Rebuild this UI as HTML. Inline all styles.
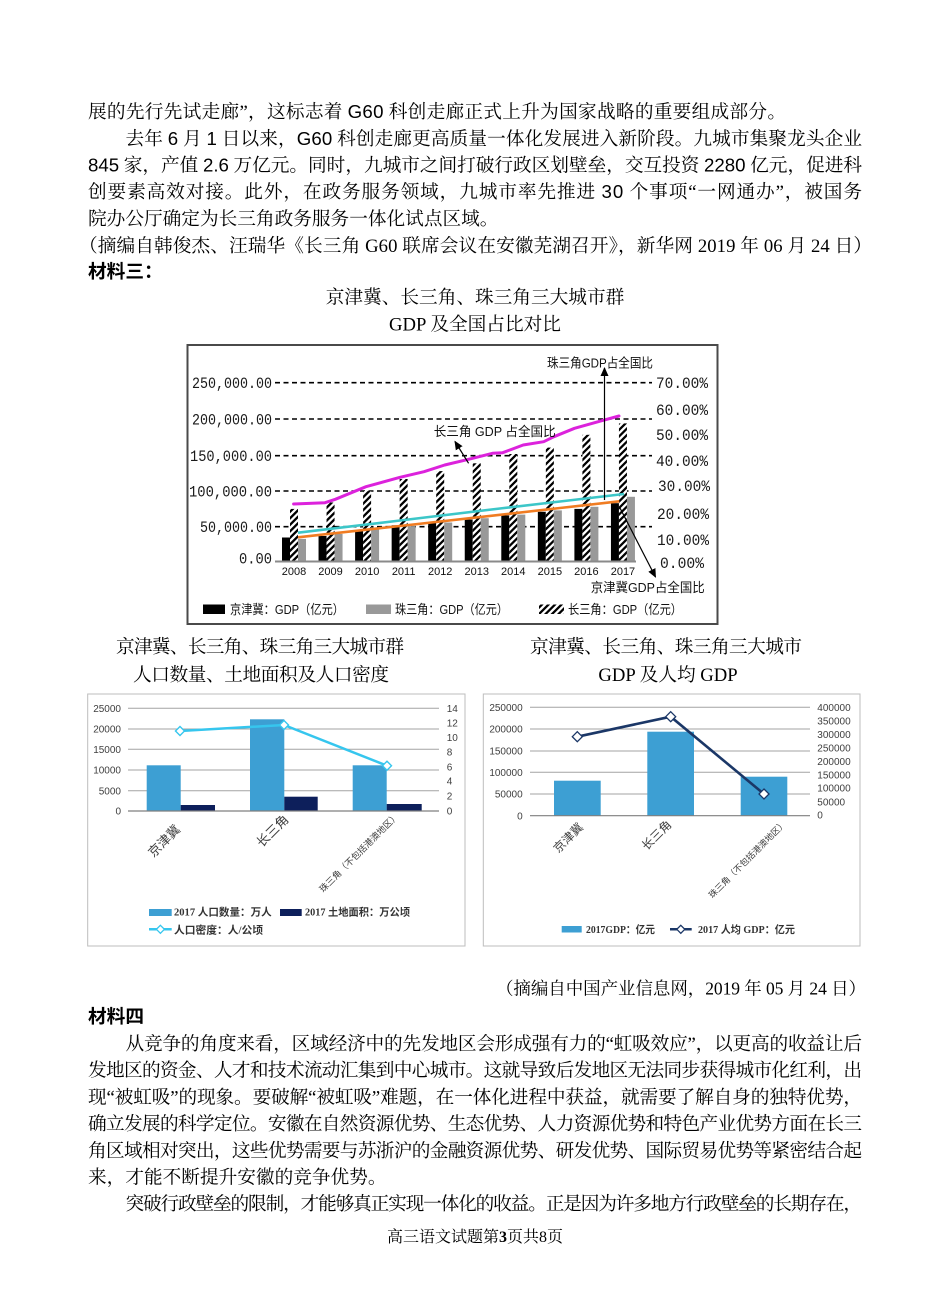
<!DOCTYPE html>
<html lang="zh">
<head>
<meta charset="utf-8">
<style>
html,body{margin:0;padding:0;background:#fff;}
svg{display:block;}
.b{font-family:"Liberation Serif","Noto Serif CJK SC","Noto Serif CJK SC",serif;font-size:18.67px;fill:#000;}
.s{font-family:"Liberation Sans","Noto Sans CJK SC",sans-serif;}
.hd{font-family:"Liberation Sans","Noto Sans CJK SC",sans-serif;font-size:18.67px;font-weight:bold;fill:#000;}
.mono{font-family:"Liberation Mono","Noto Sans CJK SC",monospace;fill:#1a1a1a;}
.cj{font-family:"Liberation Sans","Noto Sans CJK SC",sans-serif;fill:#111;}
.ax{font-family:"Liberation Sans","Noto Sans CJK SC",sans-serif;font-size:10px;fill:#404040;}
.cat{font-family:"Liberation Sans","Noto Sans CJK SC",sans-serif;fill:#404040;}
.lg{font-family:"Liberation Serif","Noto Sans CJK SC",serif;font-size:10.5px;font-weight:bold;fill:#333;}
</style>
</head>
<body>
<svg width="950" height="1316" viewBox="0 0 950 1316" xmlns="http://www.w3.org/2000/svg">
<defs>
<pattern id="hatch" patternUnits="userSpaceOnUse" width="4.6" height="4.6" patternTransform="rotate(45)">
<rect width="4.6" height="4.6" fill="#fff"/>
<rect width="2.3" height="4.6" fill="#000"/>
</pattern>
<marker id="ar" markerWidth="9" markerHeight="8" refX="8" refY="4" orient="auto" markerUnits="userSpaceOnUse">
<path d="M0,0 L9,4 L0,8 z" fill="#000"/>
</marker>
</defs>
<rect x="0" y="0" width="950" height="1316" fill="#fff"/>

<!-- ===== Top text ===== -->
<text class="b" x="88" y="118.1" textLength="698" lengthAdjust="spacing">展的先行先试走廊”，这标志着 <tspan class="s">G60</tspan> 科创走廊正式上升为国家战略的重要组成部分。</text>
<text class="b" x="125.5" y="144.8" textLength="736.5" lengthAdjust="spacing">去年 <tspan class="s">6</tspan> 月 <tspan class="s">1</tspan> 日以来，<tspan class="s">G60</tspan> 科创走廊更高质量一体化发展进入新阶段。九城市集聚龙头企业</text>
<text class="b" x="88" y="171.5" textLength="774" lengthAdjust="spacing"><tspan class="s">845</tspan> 家，产值 <tspan class="s">2.6</tspan> 万亿元。同时，九城市之间打破行政区划壁垒，交互投资 <tspan class="s">2280</tspan> 亿元，促进科</text>
<text class="b" x="88" y="198.2" textLength="774" lengthAdjust="spacing">创要素高效对接。此外，在政务服务领域，九城市率先推进 <tspan class="s">30</tspan> 个事项“一网通办”，被国务</text>
<text class="b" x="88" y="224.9">院办公厅确定为长三角政务服务一体化试点区域。</text>
<text class="b" x="79" y="252.1" textLength="793" lengthAdjust="spacing">（摘编自韩俊杰、汪瑞华《长三角 G60 联席会议在安徽芜湖召开》，新华网 2019 年 06 月 24 日）</text>
<text class="hd" x="88" y="278">材料三：</text>

<text class="b" x="475" y="303.6" text-anchor="middle">京津冀、长三角、珠三角三大城市群</text>
<text class="b" x="475" y="330.6" text-anchor="middle">GDP 及全国占比对比</text>

<!-- ===== Main chart ===== -->
<rect x="187.5" y="345" width="530" height="279" fill="#fff" stroke="#4a4a4a" stroke-width="2"/>

<g stroke="#000" stroke-width="1.6" stroke-dasharray="5 3.5">
<line x1="275" y1="382.7" x2="652" y2="382.7"/>
<line x1="275" y1="419" x2="652" y2="419"/>
<line x1="275" y1="455.7" x2="652" y2="455.7"/>
<line x1="275" y1="491" x2="652" y2="491"/>
<line x1="275" y1="526.7" x2="652" y2="526.7"/>
</g>

<g class="mono" font-size="15.5" text-anchor="end">
<text x="272" y="388" textLength="80" lengthAdjust="spacingAndGlyphs">250,000.00</text>
<text x="272" y="424.3" textLength="80" lengthAdjust="spacingAndGlyphs">200,000.00</text>
<text x="272" y="461" textLength="82" lengthAdjust="spacingAndGlyphs">150,000.00</text>
<text x="272" y="496.3" textLength="83" lengthAdjust="spacingAndGlyphs">100,000.00</text>
<text x="272" y="532" textLength="72" lengthAdjust="spacingAndGlyphs">50,000.00</text>
<text x="272" y="563.6" textLength="33" lengthAdjust="spacingAndGlyphs">0.00</text>
</g>
<g class="mono" font-size="15.5">
<text x="656" y="388.2" textLength="52" lengthAdjust="spacingAndGlyphs">70.00%</text>
<text x="656" y="414.8" textLength="52" lengthAdjust="spacingAndGlyphs">60.00%</text>
<text x="656" y="440.2" textLength="52" lengthAdjust="spacingAndGlyphs">50.00%</text>
<text x="656" y="466.2" textLength="52" lengthAdjust="spacingAndGlyphs">40.00%</text>
<text x="658" y="491.2" textLength="52" lengthAdjust="spacingAndGlyphs">30.00%</text>
<text x="657" y="518.8" textLength="52" lengthAdjust="spacingAndGlyphs">20.00%</text>
<text x="657" y="544.8" textLength="52" lengthAdjust="spacingAndGlyphs">10.00%</text>
<text x="660" y="568.2" textLength="44" lengthAdjust="spacingAndGlyphs">0.00%</text>
</g>

<g fill="#000">
<rect x="282" y="537.5" width="8" height="23.5"/>
<rect x="318.55" y="536" width="8" height="25"/>
<rect x="355.1" y="531" width="8" height="30"/>
<rect x="391.65" y="525.3" width="8" height="35.7"/>
<rect x="428.2" y="522.5" width="8" height="38.5"/>
<rect x="464.75" y="519.6" width="8" height="41.4"/>
<rect x="501.3" y="515.4" width="8" height="45.6"/>
<rect x="537.85" y="511.8" width="8" height="49.2"/>
<rect x="574.4" y="508.9" width="8" height="52.1"/>
<rect x="610.95" y="503.2" width="8" height="57.8"/>
</g>
<g fill="url(#hatch)">
<rect x="290" y="508.9" width="8" height="52.1"/>
<rect x="326.55" y="502.5" width="8" height="58.5"/>
<rect x="363.1" y="491.1" width="8" height="69.9"/>
<rect x="399.65" y="479" width="8" height="82"/>
<rect x="436.2" y="471.1" width="8" height="89.9"/>
<rect x="472.75" y="463.3" width="8" height="97.7"/>
<rect x="509.3" y="454" width="8" height="107"/>
<rect x="545.85" y="447.6" width="8" height="113.4"/>
<rect x="582.4" y="434.8" width="8" height="126.2"/>
<rect x="618.95" y="423.4" width="8" height="137.6"/>
</g>
<g fill="#999">
<rect x="298" y="538.9" width="8" height="22.1"/>
<rect x="334.55" y="533.9" width="8" height="27.1"/>
<rect x="371.1" y="528.9" width="8" height="32.1"/>
<rect x="407.65" y="526.1" width="8" height="34.9"/>
<rect x="444.2" y="522.5" width="8" height="38.5"/>
<rect x="480.75" y="518.2" width="8" height="42.8"/>
<rect x="517.3" y="514.6" width="8" height="46.4"/>
<rect x="553.85" y="510.4" width="8" height="50.6"/>
<rect x="590.4" y="506.8" width="8" height="54.2"/>
<rect x="626.95" y="496.8" width="8" height="64.2"/>
</g>

<line x1="275" y1="561.5" x2="636" y2="561.5" stroke="#8a8a8a" stroke-width="2"/>

<g class="s" font-size="11" fill="#111" text-anchor="middle">
<text x="294" y="575">2008</text>
<text x="330.55" y="575">2009</text>
<text x="367.1" y="575">2010</text>
<text x="403.65" y="575">2011</text>
<text x="440.2" y="575">2012</text>
<text x="476.75" y="575">2013</text>
<text x="513.3" y="575">2014</text>
<text x="549.85" y="575">2015</text>
<text x="586.4" y="575">2016</text>
<text x="622.95" y="575">2017</text>
</g>

<polyline points="298,532.7 400,520.5 500,508.5 560,501.5 624,494" fill="none" stroke="#3cc6c8" stroke-width="2.6"/>
<polyline points="298,537.3 400,526 500,514.8 560,508 619.3,501.3" fill="none" stroke="#f07c22" stroke-width="2.6"/>
<polyline points="293.6,504 325,502.7 335.3,499.3 366,486.7 400,477.3 424,471.7 444.7,465 468.6,459.3 492.5,453.3 502.7,452.7 523.2,445 543.7,441.7 554,436.7 574.5,428.3 601.8,420.7 619,416" fill="none" stroke="#dc22dc" stroke-width="3" stroke-linejoin="round" stroke-linecap="round"/>

<line x1="604.5" y1="500" x2="604.5" y2="368" stroke="#000" stroke-width="1.2" marker-end="url(#ar)"/>
<text class="cj" x="547" y="367.3" font-size="13" textLength="106" lengthAdjust="spacingAndGlyphs">珠三角GDP占全国比</text>
<line x1="620" y1="508" x2="655.5" y2="577" stroke="#000" stroke-width="1.2" marker-end="url(#ar)"/>
<text class="cj" x="590.7" y="591.8" font-size="13" textLength="114" lengthAdjust="spacingAndGlyphs">京津冀GDP占全国比</text>
<line x1="468.6" y1="463.3" x2="455" y2="441.5" stroke="#000" stroke-width="1.2" marker-end="url(#ar)"/>
<text class="cj" x="433.7" y="436.2" font-size="13" textLength="122" lengthAdjust="spacingAndGlyphs">长三角 GDP 占全国比</text>

<rect x="203" y="604.5" width="22" height="9.5" fill="#000"/>
<text class="cj" x="230" y="613.8" font-size="13" textLength="114" lengthAdjust="spacingAndGlyphs">京津冀：GDP（亿元）</text>
<rect x="366" y="604.5" width="25" height="9.5" fill="#999"/>
<text class="cj" x="395" y="613.8" font-size="13" textLength="113" lengthAdjust="spacingAndGlyphs">珠三角：GDP（亿元）</text>
<rect x="539" y="604.5" width="25" height="9.5" fill="url(#hatch)"/>
<text class="cj" x="568" y="613.8" font-size="13" textLength="114" lengthAdjust="spacingAndGlyphs">长三角：GDP（亿元）</text>

<!-- ===== Lower titles ===== -->
<text class="b" x="116" y="653.1" textLength="288" lengthAdjust="spacing">京津冀、长三角、珠三角三大城市群</text>
<text class="b" x="133" y="680.8" textLength="256" lengthAdjust="spacing">人口数量、土地面积及人口密度</text>
<text class="b" x="666" y="653.1" text-anchor="middle" textLength="272" lengthAdjust="spacing">京津冀、长三角、珠三角三大城市</text>
<text class="b" x="668" y="680.8" text-anchor="middle">GDP 及人均 GDP</text>

<!-- ===== Lower-left chart ===== -->
<rect x="87.7" y="694" width="377.3" height="252" fill="#fff" stroke="#bdbdbd" stroke-width="1"/>
<g stroke="#a3a3a3" stroke-width="1">
<line x1="128" y1="708.3" x2="439" y2="708.3"/>
<line x1="128" y1="729" x2="439" y2="729"/>
<line x1="128" y1="749.3" x2="439" y2="749.3"/>
<line x1="128" y1="770" x2="439" y2="770"/>
<line x1="128" y1="790.7" x2="439" y2="790.7"/>
</g>
<g class="ax" text-anchor="end">
<text x="121" y="711.9">25000</text>
<text x="121" y="732.6">20000</text>
<text x="121" y="752.9">15000</text>
<text x="121" y="773.6">10000</text>
<text x="121" y="794.3">5000</text>
<text x="121" y="814.6">0</text>
</g>
<g class="ax">
<text x="446.7" y="711.9">14</text>
<text x="446.7" y="726.3">12</text>
<text x="446.7" y="740.9">10</text>
<text x="446.7" y="755.6">8</text>
<text x="446.7" y="770.3">6</text>
<text x="446.7" y="784.6">4</text>
<text x="446.7" y="799.6">2</text>
<text x="446.7" y="814.3">0</text>
</g>
<g fill="#3d9fd3">
<rect x="146.7" y="765.3" width="34" height="45.7"/>
<rect x="250" y="719.3" width="34.3" height="91.7"/>
<rect x="352.7" y="765.3" width="34" height="45.7"/>
</g>
<g fill="#0d1f5b">
<rect x="180.7" y="805" width="34.3" height="6"/>
<rect x="284.3" y="796.7" width="33.4" height="14.3"/>
<rect x="386.7" y="804" width="35" height="7"/>
</g>
<line x1="128" y1="811" x2="439" y2="811" stroke="#7f7f7f" stroke-width="1.2"/>
<polyline points="180,731 284,725 387,765.7" fill="none" stroke="#36c6ee" stroke-width="2.5"/>
<g fill="#fff" stroke="#36c6ee" stroke-width="1.4">
<path d="M180,726.5 L184.5,731 L180,735.5 L175.5,731 Z"/>
<path d="M284,720.5 L288.5,725 L284,729.5 L279.5,725 Z"/>
<path d="M387,761.2 L391.5,765.7 L387,770.2 L382.5,765.7 Z"/>
</g>
<text class="cat" font-size="13" x="181.1" y="830.3" text-anchor="end" transform="rotate(-45 181.1 830.3)">京津冀</text>
<text class="cat" font-size="13" x="289.5" y="820.3" text-anchor="end" transform="rotate(-45 289.5 820.3)">长三角</text>
<text class="cat" font-size="9" x="399.5" y="816.5" text-anchor="end" transform="rotate(-45 399.5 816.5)" fill="#333">珠三角（不包括港澳地区）</text>
<rect x="149" y="909" width="22.7" height="7" fill="#3d9fd3"/>
<text class="lg" x="174" y="915.7" textLength="97.7" lengthAdjust="spacingAndGlyphs">2017 人口数量：万人</text>
<rect x="280" y="909" width="21.7" height="7" fill="#0d1f5b"/>
<text class="lg" x="305" y="915.7" textLength="105" lengthAdjust="spacingAndGlyphs">2017 土地面积：万公顷</text>
<line x1="149" y1="929.3" x2="171.7" y2="929.3" stroke="#36c6ee" stroke-width="2.5"/>
<path d="M160.4,925.3 L164.4,929.3 L160.4,933.3 L156.4,929.3 Z" fill="#fff" stroke="#36c6ee" stroke-width="1.3"/>
<text class="lg" x="174" y="933.3" textLength="89" lengthAdjust="spacingAndGlyphs">人口密度：人/公顷</text>

<!-- ===== Lower-right chart ===== -->
<rect x="483.3" y="694" width="376.7" height="252" fill="#fff" stroke="#bdbdbd" stroke-width="1"/>
<g stroke="#a3a3a3" stroke-width="1">
<line x1="530" y1="707.3" x2="810" y2="707.3"/>
<line x1="530" y1="729" x2="810" y2="729"/>
<line x1="530" y1="751" x2="810" y2="751"/>
<line x1="530" y1="772.3" x2="810" y2="772.3"/>
<line x1="530" y1="794" x2="810" y2="794"/>
</g>
<g class="ax" text-anchor="end">
<text x="522.7" y="710.9">250000</text>
<text x="522.7" y="732.6">200000</text>
<text x="522.7" y="754.6">150000</text>
<text x="522.7" y="775.9">100000</text>
<text x="522.7" y="797.6">50000</text>
<text x="522.7" y="819.3">0</text>
</g>
<g class="ax">
<text x="817.3" y="710.9">400000</text>
<text x="817.3" y="724.3">350000</text>
<text x="817.3" y="737.9">300000</text>
<text x="817.3" y="751.3">250000</text>
<text x="817.3" y="764.9">200000</text>
<text x="817.3" y="778.3">150000</text>
<text x="817.3" y="791.6">100000</text>
<text x="817.3" y="805.3">50000</text>
<text x="817.3" y="818.6">0</text>
</g>
<g fill="#3d9fd3">
<rect x="554" y="780.7" width="46.7" height="35"/>
<rect x="647.3" y="731.7" width="46.7" height="84"/>
<rect x="740.7" y="776.7" width="46.6" height="39"/>
</g>
<line x1="530" y1="815.7" x2="810" y2="815.7" stroke="#7f7f7f" stroke-width="1.2"/>
<polyline points="577.3,736.7 670.7,716.7 764,794" fill="none" stroke="#1b3767" stroke-width="2.6"/>
<g fill="#fff" stroke="#1b3767" stroke-width="1.3">
<path d="M577.3,731.7 L582.3,736.7 L577.3,741.7 L572.3,736.7 Z"/>
<path d="M670.7,711.7 L675.7,716.7 L670.7,721.7 L665.7,716.7 Z"/>
<path d="M764,789 L769,794 L764,799 L759,794 Z"/>
</g>
<text class="cat" font-size="12" x="583.9" y="828" text-anchor="end" transform="rotate(-45 583.9 828)">京津冀</text>
<text class="cat" font-size="12" x="672.2" y="825.4" text-anchor="end" transform="rotate(-45 672.2 825.4)">长三角</text>
<text class="cat" font-size="8.8" x="787" y="824" text-anchor="end" transform="rotate(-45 787 824)" fill="#333">珠三角（不包括港澳地区）</text>
<rect x="561.7" y="926" width="20" height="6.5" fill="#3d9fd3"/>
<text class="lg" x="586" y="933" textLength="69" lengthAdjust="spacingAndGlyphs">2017GDP：亿元</text>
<line x1="670" y1="929.3" x2="691.7" y2="929.3" stroke="#1b3767" stroke-width="2.5"/>
<path d="M680.8,925.3 L684.8,929.3 L680.8,933.3 L676.8,929.3 Z" fill="#fff" stroke="#1b3767" stroke-width="1.3"/>
<text class="lg" x="698" y="933" textLength="97" lengthAdjust="spacingAndGlyphs">2017 人均 GDP：亿元</text>

<!-- ===== Bottom text ===== -->
<text class="b" x="866" y="994.6" text-anchor="end" textLength="370" lengthAdjust="spacing" style="font-size:17.5px">（摘编自中国产业信息网，2019 年 05 月 24 日）</text>
<text class="hd" x="88" y="1023.1">材料四</text>
<text class="b" x="125.5" y="1050.1" textLength="736.5" lengthAdjust="spacing">从竞争的角度来看，区域经济中的先发地区会形成强有力的“虹吸效应”，以更高的收益让后</text>
<text class="b" x="88" y="1076.7" textLength="774" lengthAdjust="spacing">发地区的资金、人才和技术流动汇集到中心城市。这就导致后发地区无法同步获得城市化红利，出</text>
<text class="b" x="88" y="1103.4" textLength="774" lengthAdjust="spacing">现“被虹吸”的现象。要破解“被虹吸”难题，在一体化进程中获益，就需要了解自身的独特优势，</text>
<text class="b" x="88" y="1130.1" textLength="774" lengthAdjust="spacing">确立发展的科学定位。安徽在自然资源优势、生态优势、人力资源优势和特色产业优势方面在长三</text>
<text class="b" x="88" y="1156.8" textLength="774" lengthAdjust="spacing">角区域相对突出，这些优势需要与苏浙沪的金融资源优势、研发优势、国际贸易优势等紧密结合起</text>
<text class="b" x="88" y="1183.5">来，才能不断提升安徽的竞争优势。</text>
<text class="b" x="125.5" y="1210.1" textLength="736.5" lengthAdjust="spacing">突破行政壁垒的限制，才能够真正实现一体化的收益。正是因为许多地方行政壁垒的长期存在，</text>

<text class="b" x="475" y="1242" text-anchor="middle" style="font-size:16px">高三语文试题第<tspan font-weight="bold">3</tspan>页共8页</text>
</svg>
</body>
</html>
